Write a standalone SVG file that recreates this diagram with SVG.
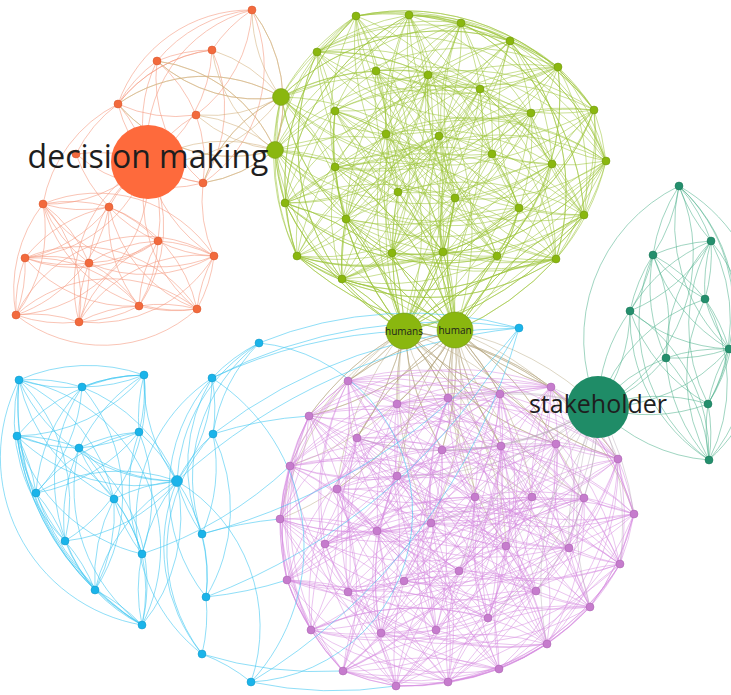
<svg xmlns="http://www.w3.org/2000/svg" width="731" height="695" viewBox="0 0 731 695">
<style>
path{fill:none;stroke-width:.9}
.eg{stroke:#9cc43a;stroke-opacity:.55;stroke-width:1}
.ep{stroke:#d58ae0;stroke-opacity:.5;stroke-width:1}
.eo{stroke:#f59a80;stroke-opacity:.65}
.et{stroke:#d4b382;stroke-opacity:.65}
.eb{stroke:#3fc6f2;stroke-opacity:.65}
.el{stroke:#4fb08c;stroke-opacity:.6}
.eh{stroke:#b3a57c;stroke-opacity:.5}
.es{stroke:#b9aab9;stroke-opacity:.5}
.ng{fill:#8ab70f;stroke:#6f9410;stroke-width:.5}
.np{fill:#c67ccd;stroke:#a862ae;stroke-width:.5}
.no{fill:#f26a3d;stroke:#d9552b;stroke-width:.5}
.nb{fill:#1ab4ea;stroke:#1597c4;stroke-width:.5}
.nt{fill:#248f6d;stroke:#1b7456;stroke-width:.5}
text{font-family:"Open Sans","Noto Sans","DejaVu Sans",sans-serif;fill:#1e1e1e}
</style>
<g id="connectors">
<!-- green -->
<path class="eg" d="M356 16A230 230 0 0 1 409 15A230 230 0 0 1 461 23A230 230 0 0 1 510 41A230 230 0 0 1 558 67A230 230 0 0 1 594 110A230 230 0 0 1 606 161A230 230 0 0 1 584 215A230 230 0 0 1 556 259A230 230 0 0 1 497 256A230 230 0 0 1 443 252A230 230 0 0 1 392 253A230 230 0 0 1 342 279A230 230 0 0 1 297 256A230 230 0 0 1 285 203A230 230 0 0 1 275 150A230 230 0 0 1 281 97A230 230 0 0 1 317 52A230 230 0 0 1 356 16"/>
<path class="eg" d="M356 16A230 230 0 0 1 461 23A230 230 0 0 1 558 67A230 230 0 0 1 606 161A230 230 0 0 1 556 259A230 230 0 0 1 443 252A230 230 0 0 1 342 279A230 230 0 0 1 285 203A230 230 0 0 1 281 97A230 230 0 0 1 356 16M409 15A230 230 0 0 1 510 41A230 230 0 0 1 594 110A230 230 0 0 1 584 215A230 230 0 0 1 497 256A230 230 0 0 1 392 253A230 230 0 0 1 297 256A230 230 0 0 1 275 150A230 230 0 0 1 317 52A230 230 0 0 1 409 15"/>
<path class="eg" d="M356 16A230 230 0 0 1 594 110A230 230 0 0 1 443 252A230 230 0 0 1 275 150A230 230 0 0 1 461 23A230 230 0 0 1 584 215A230 230 0 0 1 342 279A230 230 0 0 1 317 52A230 230 0 0 1 558 67A230 230 0 0 1 497 256A230 230 0 0 1 285 203A230 230 0 0 1 409 15A230 230 0 0 1 606 161A230 230 0 0 1 392 253A230 230 0 0 1 281 97A230 230 0 0 1 510 41A230 230 0 0 1 556 259A230 230 0 0 1 297 256A230 230 0 0 1 356 16"/>
<path class="eg" d="M356 16A230 230 0 0 1 594 110A230 230 0 0 1 443 252A230 230 0 0 1 317 52A230 230 0 0 1 428 75A230 230 0 0 1 492 154A230 230 0 0 1 519 208A230 230 0 0 1 510 41A230 230 0 0 1 556 259A230 230 0 0 1 297 256A230 230 0 0 1 335 111A230 230 0 0 1 386 134A230 230 0 0 1 398 192A230 230 0 0 1 409 15A230 230 0 0 1 606 161A230 230 0 0 1 392 253A230 230 0 0 1 281 97A230 230 0 0 1 480 89A230 230 0 0 1 552 164A230 230 0 0 1 346 219A230 230 0 0 1 558 67A230 230 0 0 1 497 256A230 230 0 0 1 285 203A230 230 0 0 1 376 71A230 230 0 0 1 439 136A230 230 0 0 1 455 198A230 230 0 0 1 461 23A230 230 0 0 1 584 215A230 230 0 0 1 342 279A230 230 0 0 1 275 150A230 230 0 0 1 531 113A230 230 0 0 1 335 167A230 230 0 0 1 356 16"/>
<path class="eg" d="M356 16A230 230 0 0 0 584 215A230 230 0 0 0 285 203A230 230 0 0 0 480 89A230 230 0 0 0 398 192A230 230 0 0 0 510 41A230 230 0 0 0 443 252A230 230 0 0 0 275 150A230 230 0 0 0 439 136A230 230 0 0 0 346 219A230 230 0 0 0 606 161A230 230 0 0 0 297 256A230 230 0 0 0 428 75A230 230 0 0 0 335 167A230 230 0 0 0 461 23A230 230 0 0 0 497 256A230 230 0 0 0 281 97A230 230 0 0 0 386 134A230 230 0 0 0 519 208A230 230 0 0 0 594 110A230 230 0 0 0 342 279A230 230 0 0 0 376 71A230 230 0 0 0 552 164A230 230 0 0 0 409 15A230 230 0 0 0 556 259A230 230 0 0 0 317 52A230 230 0 0 0 531 113A230 230 0 0 0 455 198A230 230 0 0 0 558 67A230 230 0 0 0 392 253A230 230 0 0 0 335 111A230 230 0 0 0 492 154A230 230 0 0 0 356 16"/>
<path class="eg" d="M356 16A230 230 0 0 1 392 253A230 230 0 0 1 531 113A230 230 0 0 1 409 15A230 230 0 0 1 342 279A230 230 0 0 1 386 134A230 230 0 0 1 461 23A230 230 0 0 1 297 256A230 230 0 0 1 439 136A230 230 0 0 1 510 41A230 230 0 0 1 285 203A230 230 0 0 1 492 154A230 230 0 0 1 558 67A230 230 0 0 1 317 52A230 230 0 0 1 552 164A230 230 0 0 1 594 110A230 230 0 0 1 281 97A230 230 0 0 1 335 167A230 230 0 0 1 606 161A230 230 0 0 1 275 150A230 230 0 0 1 398 192A230 230 0 0 1 584 215A230 230 0 0 1 335 111A230 230 0 0 1 455 198A230 230 0 0 1 556 259A230 230 0 0 1 376 71A230 230 0 0 1 519 208A230 230 0 0 1 497 256A230 230 0 0 1 428 75A230 230 0 0 1 346 219A230 230 0 0 1 443 252A230 230 0 0 1 480 89A230 230 0 0 1 356 16"/>
<path class="eg" d="M356 16A230 230 0 0 0 297 256A230 230 0 0 0 552 164A230 230 0 0 0 584 215A230 230 0 0 0 428 75A230 230 0 0 0 409 15A230 230 0 0 0 285 203A230 230 0 0 0 335 167A230 230 0 0 0 556 259A230 230 0 0 0 480 89A230 230 0 0 0 461 23A230 230 0 0 0 317 52A230 230 0 0 0 398 192A230 230 0 0 0 497 256A230 230 0 0 0 531 113A230 230 0 0 0 510 41A230 230 0 0 0 281 97A230 230 0 0 0 455 198A230 230 0 0 0 443 252A230 230 0 0 0 386 134A230 230 0 0 0 558 67A230 230 0 0 0 275 150A230 230 0 0 0 519 208A230 230 0 0 0 392 253A230 230 0 0 0 439 136A230 230 0 0 0 594 110A230 230 0 0 0 335 111A230 230 0 0 0 346 219A230 230 0 0 0 342 279A230 230 0 0 0 492 154A230 230 0 0 0 606 161A230 230 0 0 0 376 71A230 230 0 0 0 356 16"/>
<path class="eg" d="M356 16A230 230 0 0 1 510 41A230 230 0 0 1 606 161A230 230 0 0 1 497 256A230 230 0 0 1 342 279A230 230 0 0 1 317 52A230 230 0 0 1 335 111A230 230 0 0 1 480 89A230 230 0 0 1 439 136A230 230 0 0 1 335 167A230 230 0 0 1 519 208A230 230 0 0 1 409 15A230 230 0 0 1 558 67A230 230 0 0 1 584 215A230 230 0 0 1 443 252A230 230 0 0 1 297 256A230 230 0 0 1 281 97A230 230 0 0 1 376 71A230 230 0 0 1 531 113A230 230 0 0 1 492 154A230 230 0 0 1 398 192A230 230 0 0 1 346 219A230 230 0 0 1 461 23A230 230 0 0 1 594 110A230 230 0 0 1 556 259A230 230 0 0 1 392 253A230 230 0 0 1 285 203A230 230 0 0 1 275 150A230 230 0 0 1 428 75A230 230 0 0 1 386 134A230 230 0 0 1 552 164A230 230 0 0 1 455 198A230 230 0 0 1 356 16"/>
<path class="eg" d="M356 16A230 230 0 0 0 497 256A230 230 0 0 0 335 111A230 230 0 0 0 335 167A230 230 0 0 0 558 67A230 230 0 0 0 297 256A230 230 0 0 0 531 113A230 230 0 0 0 346 219A230 230 0 0 0 556 259A230 230 0 0 0 275 150A230 230 0 0 0 552 164A230 230 0 0 0 510 41A230 230 0 0 0 342 279A230 230 0 0 0 480 89A230 230 0 0 0 519 208A230 230 0 0 0 584 215A230 230 0 0 0 281 97A230 230 0 0 0 492 154A230 230 0 0 0 461 23A230 230 0 0 0 392 253A230 230 0 0 0 428 75A230 230 0 0 0 455 198A230 230 0 0 0 606 161A230 230 0 0 0 317 52A230 230 0 0 0 439 136A230 230 0 0 0 409 15A230 230 0 0 0 443 252A230 230 0 0 0 376 71A230 230 0 0 0 398 192A230 230 0 0 0 594 110A230 230 0 0 0 285 203A230 230 0 0 0 386 134A230 230 0 0 0 356 16"/>
<path class="eg" d="M356 16A230 230 0 0 1 317 52A230 230 0 0 1 519 208A230 230 0 0 1 297 256A230 230 0 0 1 398 192A230 230 0 0 1 392 253A230 230 0 0 1 552 164A230 230 0 0 1 497 256A230 230 0 0 1 439 136A230 230 0 0 1 584 215A230 230 0 0 1 531 113A230 230 0 0 1 594 110A230 230 0 0 1 428 75A230 230 0 0 1 510 41A230 230 0 0 1 335 111A230 230 0 0 1 409 15A230 230 0 0 1 281 97A230 230 0 0 1 346 219A230 230 0 0 1 285 203A230 230 0 0 1 455 198A230 230 0 0 1 342 279A230 230 0 0 1 335 167A230 230 0 0 1 443 252A230 230 0 0 1 492 154A230 230 0 0 1 556 259A230 230 0 0 1 386 134A230 230 0 0 1 606 161A230 230 0 0 1 480 89A230 230 0 0 1 558 67A230 230 0 0 1 376 71A230 230 0 0 1 461 23A230 230 0 0 1 275 150A230 230 0 0 1 356 16"/>
<path class="eg" d="M404 331A300 300 0 0 1 342 279A300 300 0 0 1 455 331A300 300 0 0 1 392 253A300 300 0 0 1 404 331A300 300 0 0 1 443 252A300 300 0 0 1 455 331A300 300 0 0 1 497 256A300 300 0 0 1 404 331A300 300 0 0 1 556 259A300 300 0 0 1 455 331A300 300 0 0 1 297 256A300 300 0 0 1 404 331A300 300 0 0 1 285 203A300 300 0 0 1 455 331A300 300 0 0 1 346 219A300 300 0 0 1 404 331A300 300 0 0 1 398 192A300 300 0 0 1 455 331A300 300 0 0 1 455 198A300 300 0 0 1 404 331A300 300 0 0 1 519 208A300 300 0 0 1 455 331A300 300 0 0 1 584 215A300 300 0 0 1 404 331A300 300 0 0 1 335 167A300 300 0 0 1 455 331A300 300 0 0 1 275 150A300 300 0 0 1 404 331A300 300 0 0 1 552 164A300 300 0 0 1 455 331A300 300 0 0 1 606 161A300 300 0 0 1 404 331A300 300 0 0 1 386 134A300 300 0 0 1 455 331A300 300 0 0 1 439 136A300 300 0 0 1 404 331A300 300 0 0 1 492 154"/>
<path class="eg" d="M455 331A300 300 0 0 0 342 279A300 300 0 0 0 404 331A300 300 0 0 0 392 253A300 300 0 0 0 455 331A300 300 0 0 0 443 252A300 300 0 0 0 404 331A300 300 0 0 0 497 256A300 300 0 0 0 455 331A300 300 0 0 0 556 259A300 300 0 0 0 404 331A300 300 0 0 0 297 256A300 300 0 0 0 455 331A300 300 0 0 0 285 203A300 300 0 0 0 404 331A300 300 0 0 0 346 219A300 300 0 0 0 455 331A300 300 0 0 0 398 192A300 300 0 0 0 404 331A300 300 0 0 0 455 198A300 300 0 0 0 455 331A300 300 0 0 0 519 208A300 300 0 0 0 404 331A300 300 0 0 0 584 215A300 300 0 0 0 455 331A300 300 0 0 0 335 167A300 300 0 0 0 404 331A300 300 0 0 0 531 113A300 300 0 0 0 455 331A300 300 0 0 0 335 111A300 300 0 0 0 404 331A300 300 0 0 0 480 89A300 300 0 0 0 455 331A300 300 0 0 0 428 75A300 300 0 0 0 404 331A300 300 0 0 0 376 71"/>
<!-- humans to pink -->
<path class="eh" d="M404 331A300 300 0 0 1 348 381A300 300 0 0 1 455 331A300 300 0 0 1 397 404A300 300 0 0 1 404 331A300 300 0 0 1 448 398A300 300 0 0 1 455 331A300 300 0 0 1 500 394A300 300 0 0 1 404 331A300 300 0 0 1 551 387A300 300 0 0 1 455 331A300 300 0 0 1 309 416A300 300 0 0 1 404 331A300 300 0 0 1 357 438A300 300 0 0 1 455 331A300 300 0 0 1 442 450A300 300 0 0 1 404 331A300 300 0 0 1 501 446A300 300 0 0 1 455 331A300 300 0 0 1 556 444A300 300 0 0 1 404 331A300 300 0 0 1 618 459A300 300 0 0 1 455 331A300 300 0 0 1 290 466A300 300 0 0 1 404 331A300 300 0 0 1 397 476A300 300 0 0 1 455 331A300 300 0 0 1 337 489A300 300 0 0 1 404 331A300 300 0 0 1 475 497A300 300 0 0 1 455 331A300 300 0 0 1 532 497A300 300 0 0 1 404 331A300 300 0 0 1 584 498A300 300 0 0 1 455 331A300 300 0 0 1 634 514"/>
<path class="eh" d="M455 331A300 300 0 0 0 348 381A300 300 0 0 0 404 331A300 300 0 0 0 397 404A300 300 0 0 0 455 331A300 300 0 0 0 448 398A300 300 0 0 0 404 331A300 300 0 0 0 500 394A300 300 0 0 0 455 331A300 300 0 0 0 551 387A300 300 0 0 0 404 331A300 300 0 0 0 309 416A300 300 0 0 0 455 331A300 300 0 0 0 357 438A300 300 0 0 0 404 331A300 300 0 0 0 442 450A300 300 0 0 0 455 331A300 300 0 0 0 501 446A300 300 0 0 0 404 331A300 300 0 0 0 556 444A300 300 0 0 0 455 331A300 300 0 0 0 618 459A300 300 0 0 0 404 331A300 300 0 0 0 431 523A300 300 0 0 0 455 331A300 300 0 0 0 506 546A300 300 0 0 0 404 331A300 300 0 0 0 280 519A300 300 0 0 0 455 331A300 300 0 0 0 569 548M455 331A300 300 0 0 1 598 407"/>
<!-- pink -->
<path class="ep" d="M348 381A260 260 0 0 1 397 404A260 260 0 0 1 448 398A260 260 0 0 1 500 394A260 260 0 0 1 551 387A260 260 0 0 1 618 459A260 260 0 0 1 634 514A260 260 0 0 1 620 564A260 260 0 0 1 590 607A260 260 0 0 1 547 644A260 260 0 0 1 499 669A260 260 0 0 1 448 682A260 260 0 0 1 396 686A260 260 0 0 1 343 671A260 260 0 0 1 311 630A260 260 0 0 1 287 580A260 260 0 0 1 280 519A260 260 0 0 1 290 466A260 260 0 0 1 309 416A260 260 0 0 1 348 381"/>
<path class="ep" d="M348 381A260 260 0 0 1 448 398A260 260 0 0 1 551 387A260 260 0 0 1 634 514A260 260 0 0 1 590 607A260 260 0 0 1 499 669A260 260 0 0 1 396 686A260 260 0 0 1 311 630A260 260 0 0 1 280 519A260 260 0 0 1 309 416A260 260 0 0 1 348 381M397 404A260 260 0 0 1 500 394A260 260 0 0 1 618 459A260 260 0 0 1 620 564A260 260 0 0 1 547 644A260 260 0 0 1 448 682A260 260 0 0 1 343 671A260 260 0 0 1 287 580A260 260 0 0 1 290 466A260 260 0 0 1 397 404M348 381A260 260 0 0 1 618 459A260 260 0 0 1 547 644A260 260 0 0 1 343 671A260 260 0 0 1 280 519A260 260 0 0 1 348 381M500 394A260 260 0 0 1 620 564A260 260 0 0 1 448 682A260 260 0 0 1 287 580A260 260 0 0 1 309 416A260 260 0 0 1 500 394"/>
<path class="ep" d="M348 381A260 260 0 0 1 500 394A260 260 0 0 1 357 438A260 260 0 0 1 556 444A260 260 0 0 1 397 476A260 260 0 0 1 532 497A260 260 0 0 1 280 519A260 260 0 0 1 325 544A260 260 0 0 1 620 564A260 260 0 0 1 459 571A260 260 0 0 1 590 607A260 260 0 0 1 381 633A260 260 0 0 1 343 671A260 260 0 0 1 499 669A260 260 0 0 1 448 398A260 260 0 0 1 309 416A260 260 0 0 1 501 446A260 260 0 0 1 290 466A260 260 0 0 1 475 497A260 260 0 0 1 634 514A260 260 0 0 1 377 531A260 260 0 0 1 569 548A260 260 0 0 1 404 581A260 260 0 0 1 536 591A260 260 0 0 1 311 630A260 260 0 0 1 547 644A260 260 0 0 1 448 682A260 260 0 0 1 397 404A260 260 0 0 1 551 387A260 260 0 0 1 442 450A260 260 0 0 1 618 459A260 260 0 0 1 337 489A260 260 0 0 1 584 498A260 260 0 0 1 431 523A260 260 0 0 1 506 546A260 260 0 0 1 287 580A260 260 0 0 1 348 592A260 260 0 0 1 488 618A260 260 0 0 1 436 630A260 260 0 0 1 396 686A260 260 0 0 1 348 381"/>
<path class="ep" d="M348 381A260 260 0 0 0 442 450A260 260 0 0 0 475 497A260 260 0 0 0 325 544A260 260 0 0 0 348 592A260 260 0 0 0 547 644A260 260 0 0 0 448 398A260 260 0 0 0 556 444A260 260 0 0 0 584 498A260 260 0 0 0 569 548A260 260 0 0 0 590 607A260 260 0 0 0 396 686A260 260 0 0 0 551 387A260 260 0 0 0 290 466A260 260 0 0 0 280 519A260 260 0 0 0 287 580A260 260 0 0 0 311 630A260 260 0 0 0 499 669A260 260 0 0 0 357 438A260 260 0 0 0 337 489A260 260 0 0 0 377 531A260 260 0 0 0 459 571A260 260 0 0 0 436 630A260 260 0 0 0 397 404A260 260 0 0 0 501 446A260 260 0 0 0 532 497A260 260 0 0 0 506 546A260 260 0 0 0 536 591A260 260 0 0 0 343 671A260 260 0 0 0 500 394A260 260 0 0 0 618 459A260 260 0 0 0 634 514A260 260 0 0 0 620 564A260 260 0 0 0 488 618A260 260 0 0 0 448 682A260 260 0 0 0 309 416A260 260 0 0 0 397 476A260 260 0 0 0 431 523A260 260 0 0 0 404 581A260 260 0 0 0 381 633A260 260 0 0 0 348 381"/>
<path class="ep" d="M348 381A260 260 0 0 1 556 444A260 260 0 0 1 280 519A260 260 0 0 1 459 571A260 260 0 0 1 343 671A260 260 0 0 1 309 416A260 260 0 0 1 475 497A260 260 0 0 1 569 548A260 260 0 0 1 311 630A260 260 0 0 1 397 404A260 260 0 0 1 618 459A260 260 0 0 1 431 523A260 260 0 0 1 348 592A260 260 0 0 1 396 686A260 260 0 0 1 357 438A260 260 0 0 1 532 497A260 260 0 0 1 620 564A260 260 0 0 1 381 633A260 260 0 0 1 448 398A260 260 0 0 1 290 466A260 260 0 0 1 377 531A260 260 0 0 1 536 591A260 260 0 0 1 448 682A260 260 0 0 1 442 450A260 260 0 0 1 584 498A260 260 0 0 1 287 580A260 260 0 0 1 436 630A260 260 0 0 1 500 394A260 260 0 0 1 397 476A260 260 0 0 1 325 544A260 260 0 0 1 590 607A260 260 0 0 1 499 669A260 260 0 0 1 501 446A260 260 0 0 1 634 514A260 260 0 0 1 404 581A260 260 0 0 1 547 644A260 260 0 0 1 551 387A260 260 0 0 1 337 489A260 260 0 0 1 506 546A260 260 0 0 1 488 618A260 260 0 0 1 348 381"/>
<path class="ep" d="M348 381A260 260 0 0 0 290 466A260 260 0 0 0 506 546A260 260 0 0 0 381 633A260 260 0 0 0 551 387A260 260 0 0 0 532 497A260 260 0 0 0 404 581A260 260 0 0 0 396 686A260 260 0 0 0 501 446A260 260 0 0 0 431 523A260 260 0 0 0 590 607A260 260 0 0 0 397 404A260 260 0 0 0 397 476A260 260 0 0 0 569 548A260 260 0 0 0 436 630A260 260 0 0 0 309 416A260 260 0 0 0 584 498A260 260 0 0 0 459 571A260 260 0 0 0 448 682A260 260 0 0 0 556 444A260 260 0 0 0 377 531A260 260 0 0 0 488 618A260 260 0 0 0 448 398A260 260 0 0 0 337 489A260 260 0 0 0 620 564A260 260 0 0 0 547 644A260 260 0 0 0 357 438A260 260 0 0 0 634 514A260 260 0 0 0 348 592A260 260 0 0 0 499 669A260 260 0 0 0 618 459A260 260 0 0 0 325 544A260 260 0 0 0 311 630A260 260 0 0 0 500 394A260 260 0 0 0 475 497A260 260 0 0 0 287 580A260 260 0 0 0 343 671A260 260 0 0 0 442 450A260 260 0 0 0 280 519A260 260 0 0 0 536 591A260 260 0 0 0 348 381"/>
<path class="ep" d="M348 381A260 260 0 0 1 337 489A260 260 0 0 1 404 581A260 260 0 0 1 499 669A260 260 0 0 1 397 476A260 260 0 0 1 287 580A260 260 0 0 1 448 682A260 260 0 0 1 290 466A260 260 0 0 1 620 564A260 260 0 0 1 396 686A260 260 0 0 1 618 459A260 260 0 0 1 569 548A260 260 0 0 1 343 671A260 260 0 0 1 556 444A260 260 0 0 1 506 546A260 260 0 0 1 547 644A260 260 0 0 1 501 446A260 260 0 0 1 325 544A260 260 0 0 1 436 630A260 260 0 0 1 442 450A260 260 0 0 1 377 531A260 260 0 0 1 381 633A260 260 0 0 1 357 438A260 260 0 0 1 431 523A260 260 0 0 1 311 630A260 260 0 0 1 309 416A260 260 0 0 1 280 519A260 260 0 0 1 488 618A260 260 0 0 1 551 387A260 260 0 0 1 634 514A260 260 0 0 1 590 607A260 260 0 0 1 500 394A260 260 0 0 1 584 498A260 260 0 0 1 536 591A260 260 0 0 1 448 398A260 260 0 0 1 532 497A260 260 0 0 1 348 592A260 260 0 0 1 397 404A260 260 0 0 1 475 497A260 260 0 0 1 459 571A260 260 0 0 1 348 381"/>
<path class="ep" d="M348 381A260 260 0 0 0 634 514A260 260 0 0 0 436 630A260 260 0 0 0 290 466A260 260 0 0 0 348 592A260 260 0 0 0 309 416A260 260 0 0 0 506 546A260 260 0 0 0 499 669A260 260 0 0 0 584 498A260 260 0 0 0 381 633A260 260 0 0 0 618 459A260 260 0 0 0 459 571A260 260 0 0 0 551 387A260 260 0 0 0 325 544A260 260 0 0 0 448 682A260 260 0 0 0 532 497A260 260 0 0 0 311 630A260 260 0 0 0 556 444A260 260 0 0 0 404 581A260 260 0 0 0 500 394A260 260 0 0 0 377 531A260 260 0 0 0 396 686A260 260 0 0 0 475 497A260 260 0 0 0 488 618A260 260 0 0 0 501 446A260 260 0 0 0 287 580A260 260 0 0 0 448 398A260 260 0 0 0 431 523A260 260 0 0 0 343 671A260 260 0 0 0 337 489A260 260 0 0 0 590 607A260 260 0 0 0 442 450A260 260 0 0 0 620 564A260 260 0 0 0 397 404A260 260 0 0 0 280 519A260 260 0 0 0 547 644A260 260 0 0 0 397 476A260 260 0 0 0 536 591A260 260 0 0 0 357 438A260 260 0 0 0 569 548A260 260 0 0 0 348 381"/>
<path class="ep" d="M348 381A260 260 0 0 1 431 523A260 260 0 0 1 448 682A260 260 0 0 1 634 514A260 260 0 0 1 343 671A260 260 0 0 1 532 497A260 260 0 0 1 436 630A260 260 0 0 1 337 489A260 260 0 0 1 311 630A260 260 0 0 1 290 466A260 260 0 0 1 590 607A260 260 0 0 1 556 444A260 260 0 0 1 348 592A260 260 0 0 1 442 450A260 260 0 0 1 404 581A260 260 0 0 1 309 416A260 260 0 0 1 620 564A260 260 0 0 1 500 394A260 260 0 0 1 506 546A260 260 0 0 1 397 404A260 260 0 0 1 377 531A260 260 0 0 1 499 669A260 260 0 0 1 280 519A260 260 0 0 1 396 686A260 260 0 0 1 584 498A260 260 0 0 1 547 644A260 260 0 0 1 475 497A260 260 0 0 1 381 633A260 260 0 0 1 397 476A260 260 0 0 1 488 618A260 260 0 0 1 618 459A260 260 0 0 1 536 591A260 260 0 0 1 501 446A260 260 0 0 1 459 571A260 260 0 0 1 357 438A260 260 0 0 1 287 580A260 260 0 0 1 551 387A260 260 0 0 1 569 548A260 260 0 0 1 448 398A260 260 0 0 1 325 544A260 260 0 0 1 348 381"/>
<path class="ep" d="M348 381A260 260 0 0 0 397 404A260 260 0 0 0 448 398A260 260 0 0 0 500 394A260 260 0 0 0 551 387A260 260 0 0 0 309 416A260 260 0 0 0 357 438A260 260 0 0 0 442 450A260 260 0 0 0 501 446A260 260 0 0 0 556 444A260 260 0 0 0 618 459A260 260 0 0 0 290 466A260 260 0 0 0 397 476A260 260 0 0 0 337 489A260 260 0 0 0 475 497A260 260 0 0 0 532 497A260 260 0 0 0 584 498A260 260 0 0 0 634 514A260 260 0 0 0 280 519A260 260 0 0 0 431 523A260 260 0 0 0 377 531A260 260 0 0 0 325 544A260 260 0 0 0 506 546A260 260 0 0 0 569 548A260 260 0 0 0 620 564A260 260 0 0 0 287 580A260 260 0 0 0 404 581A260 260 0 0 0 459 571A260 260 0 0 0 348 592A260 260 0 0 0 536 591A260 260 0 0 0 590 607A260 260 0 0 0 488 618A260 260 0 0 0 311 630A260 260 0 0 0 381 633A260 260 0 0 0 436 630A260 260 0 0 0 547 644A260 260 0 0 0 343 671A260 260 0 0 0 396 686A260 260 0 0 0 448 682A260 260 0 0 0 499 669"/>
<!-- stakeholder to pink -->
<path class="es" d="M598 407A300 300 0 0 1 551 387M598 407A300 300 0 0 1 501 446M598 407A300 300 0 0 1 584 498M598 407A300 300 0 0 1 634 514M598 407A300 300 0 0 1 620 564M598 407A300 300 0 0 1 506 546M598 407A300 300 0 0 1 536 591M598 407A300 300 0 0 1 488 618M598 407A300 300 0 0 1 431 523M598 407A300 300 0 0 1 397 476M598 407A300 300 0 0 1 357 438M598 407A300 300 0 0 1 442 450M598 407A300 300 0 0 0 556 444M598 407A300 300 0 0 0 618 459M598 407A300 300 0 0 0 532 497M598 407A300 300 0 0 0 569 548M598 407A300 300 0 0 0 590 607M598 407A300 300 0 0 0 475 497M598 407A300 300 0 0 0 547 644M598 407A300 300 0 0 0 459 571M598 407A300 300 0 0 0 448 398M598 407A300 300 0 0 0 500 394"/>
<!-- teal -->
<path class="el" d="M679 186A170 170 0 0 1 711 241A170 170 0 0 1 705 299A170 170 0 0 1 729 349A170 170 0 0 1 708 404A170 170 0 0 1 709 460A170 170 0 0 1 666 358A170 170 0 0 1 598 407A170 170 0 0 1 630 311A170 170 0 0 1 653 255A170 170 0 0 1 679 186"/>
<path class="el" d="M679 186A170 170 0 0 1 729 349A170 170 0 0 1 666 358A170 170 0 0 1 653 255A170 170 0 0 1 705 299A170 170 0 0 1 709 460A170 170 0 0 1 630 311A170 170 0 0 1 711 241A170 170 0 0 1 708 404A170 170 0 0 1 598 407A170 170 0 0 1 679 186"/>
<path class="el" d="M679 186A170 170 0 0 1 598 407A170 170 0 0 1 708 404A170 170 0 0 1 711 241A170 170 0 0 1 630 311A170 170 0 0 1 709 460A170 170 0 0 1 705 299A170 170 0 0 1 653 255A170 170 0 0 1 666 358A170 170 0 0 1 729 349A170 170 0 0 1 679 186"/>
<path class="el" d="M679 186A170 170 0 0 1 653 255A170 170 0 0 1 630 311A170 170 0 0 1 598 407A170 170 0 0 1 666 358A170 170 0 0 1 709 460A170 170 0 0 1 708 404A170 170 0 0 1 729 349A170 170 0 0 1 705 299A170 170 0 0 1 711 241A170 170 0 0 1 679 186"/>
<path class="el" d="M679 186A170 170 0 0 1 709 460A170 170 0 0 1 598 407M679 186A170 170 0 0 1 708 404M711 241A170 170 0 0 1 709 460M653 255A170 170 0 0 0 709 460M630 311A170 170 0 0 0 708 404M653 255A170 170 0 0 0 729 349M630 311A170 170 0 0 0 729 349M653 255A170 170 0 0 1 711 241M711 241A170 170 0 0 0 666 358M705 299A170 170 0 0 0 598 407M729 349A170 170 0 0 1 598 407"/>
<!-- orange -->
<path class="eo" d="M118 104A140 140 0 0 1 157 61A140 140 0 0 1 212 50A140 140 0 0 1 252 10A140 140 0 0 1 196 115A140 140 0 0 1 203 183A140 140 0 0 1 148 162A140 140 0 0 1 118 104M118 104A140 140 0 0 1 252 10A140 140 0 0 1 203 183A140 140 0 0 1 157 61A140 140 0 0 1 196 115A140 140 0 0 1 118 104A140 140 0 0 1 212 50A140 140 0 0 1 203 183M157 61A140 140 0 0 1 252 10M212 50A140 140 0 0 0 118 104"/>
<path class="eo" d="M148 162A140 140 0 0 1 252 10M148 162A140 140 0 0 1 157 61M148 162A140 140 0 0 1 196 115M148 162A140 140 0 0 1 43 204M148 162A140 140 0 0 1 158 241M148 162A140 140 0 0 1 25 258M148 162A140 140 0 0 1 16 315M148 162A140 140 0 0 1 139 306M148 162A140 140 0 0 0 212 50M148 162A140 140 0 0 0 118 104M148 162A140 140 0 0 0 203 183M148 162A140 140 0 0 0 76 154M148 162A140 140 0 0 0 109 207M148 162A140 140 0 0 0 214 256M148 162A140 140 0 0 0 89 263M148 162A140 140 0 0 0 79 322M148 162A140 140 0 0 0 197 309"/>
<path class="eo" d="M43 204A140 140 0 0 1 109 207A140 140 0 0 1 158 241A140 140 0 0 1 214 256A140 140 0 0 1 197 309A140 140 0 0 1 139 306A140 140 0 0 1 79 322A140 140 0 0 1 16 315A140 140 0 0 1 25 258A140 140 0 0 1 89 263A140 140 0 0 1 43 204"/>
<path class="eo" d="M43 204A140 140 0 0 1 214 256A140 140 0 0 1 79 322A140 140 0 0 1 89 263A140 140 0 0 1 158 241A140 140 0 0 1 139 306A140 140 0 0 1 25 258A140 140 0 0 1 109 207A140 140 0 0 1 197 309A140 140 0 0 1 16 315A140 140 0 0 1 43 204"/>
<path class="eo" d="M43 204A140 140 0 0 1 16 315A140 140 0 0 1 197 309A140 140 0 0 1 109 207A140 140 0 0 1 25 258A140 140 0 0 1 139 306A140 140 0 0 1 158 241A140 140 0 0 1 89 263A140 140 0 0 1 79 322A140 140 0 0 1 214 256A140 140 0 0 1 43 204"/>
<path class="eo" d="M43 204A140 140 0 0 1 89 263A140 140 0 0 1 25 258A140 140 0 0 1 16 315A140 140 0 0 1 79 322A140 140 0 0 1 139 306A140 140 0 0 1 197 309A140 140 0 0 1 214 256A140 140 0 0 1 158 241A140 140 0 0 1 109 207A140 140 0 0 1 43 204"/>
<path class="eo" d="M43 204A140 140 0 0 0 197 309A140 140 0 0 0 25 258A140 140 0 0 0 158 241A140 140 0 0 0 79 322A140 140 0 0 0 43 204M109 207A140 140 0 0 0 139 306A140 140 0 0 0 89 263A140 140 0 0 0 214 256A140 140 0 0 0 16 315A140 140 0 0 0 109 207M43 204A140 140 0 0 1 118 104M76 154A140 140 0 0 1 118 104M76 154A140 140 0 0 0 109 207M76 154A140 140 0 0 0 203 183M203 183A140 140 0 0 0 214 256"/>
<path class="et" d="M281 97A150 150 0 0 1 252 10A150 150 0 0 1 275 150A150 150 0 0 1 212 50A150 150 0 0 1 281 97A150 150 0 0 1 157 61A150 150 0 0 1 275 150A150 150 0 0 1 118 104A150 150 0 0 1 281 97A150 150 0 0 1 196 115A150 150 0 0 1 275 150A150 150 0 0 1 203 183A150 150 0 0 1 281 97A150 150 0 0 1 148 162A150 150 0 0 1 275 150A150 150 0 0 1 196 115"/>
<path class="et" d="M281 97A150 150 0 0 0 118 104A150 150 0 0 0 275 150A150 150 0 0 0 157 61A150 150 0 0 0 281 97A150 150 0 0 0 203 183A150 150 0 0 0 275 150A150 150 0 0 0 252 10"/>
<!-- blue -->
<path class="eb" d="M19 380A170 170 0 0 1 82 387A170 170 0 0 1 144 375A170 170 0 0 1 139 432A170 170 0 0 1 142 554A170 170 0 0 1 142 625A170 170 0 0 1 95 590A170 170 0 0 1 65 541A170 170 0 0 1 36 493A170 170 0 0 1 17 436A170 170 0 0 1 79 448A170 170 0 0 1 114 499A170 170 0 0 1 19 380"/>
<path class="eb" d="M19 380A170 170 0 0 1 142 625A170 170 0 0 1 79 448A170 170 0 0 1 139 432A170 170 0 0 1 36 493A170 170 0 0 1 82 387A170 170 0 0 1 95 590A170 170 0 0 1 114 499A170 170 0 0 1 142 554A170 170 0 0 1 17 436A170 170 0 0 1 144 375A170 170 0 0 1 65 541A170 170 0 0 1 19 380"/>
<path class="eb" d="M19 380A170 170 0 0 1 65 541A170 170 0 0 1 144 375A170 170 0 0 1 17 436A170 170 0 0 1 142 554A170 170 0 0 1 114 499A170 170 0 0 1 95 590A170 170 0 0 1 82 387A170 170 0 0 1 36 493A170 170 0 0 1 139 432A170 170 0 0 1 79 448A170 170 0 0 1 142 625A170 170 0 0 1 19 380"/>
<path class="eb" d="M19 380A170 170 0 0 1 114 499A170 170 0 0 1 79 448A170 170 0 0 1 17 436A170 170 0 0 1 36 493A170 170 0 0 1 65 541A170 170 0 0 1 95 590A170 170 0 0 1 142 625A170 170 0 0 1 142 554A170 170 0 0 1 139 432A170 170 0 0 1 144 375A170 170 0 0 1 82 387A170 170 0 0 1 19 380"/>
<path class="eb" d="M19 380A260 260 0 0 0 142 625M17 436A260 260 0 0 0 142 625M19 380A260 260 0 0 0 95 590M17 436A260 260 0 0 0 95 590M36 493A260 260 0 0 0 142 625M82 387A170 170 0 0 1 144 375M19 380A170 170 0 0 1 144 375"/>
<path class="eb" d="M177 481A170 170 0 0 1 19 380M177 481A170 170 0 0 1 144 375M177 481A170 170 0 0 1 17 436M177 481A170 170 0 0 1 79 448M177 481A170 170 0 0 1 65 541M177 481A170 170 0 0 1 142 625M177 481A170 170 0 0 1 259 343M177 481A170 170 0 0 1 213 434M177 481A170 170 0 0 1 206 597M177 481A170 170 0 0 1 251 682M177 481A170 170 0 0 0 82 387M177 481A170 170 0 0 0 139 432M177 481A170 170 0 0 0 36 493M177 481A170 170 0 0 0 114 499M177 481A170 170 0 0 0 142 554M177 481A170 170 0 0 0 95 590M177 481A170 170 0 0 0 212 378M177 481A170 170 0 0 0 202 534M177 481A170 170 0 0 0 202 654"/>
<path class="eb" d="M259 343A170 170 0 0 1 251 682M212 378A200 200 0 0 1 251 682M259 343A170 170 0 0 0 202 534M212 378A170 170 0 0 0 202 654M212 378A170 170 0 0 0 206 597M213 434A170 170 0 0 0 202 654M259 343A170 170 0 0 0 213 434M212 378A170 170 0 0 0 202 534M259 343A170 170 0 0 0 212 378M213 434A170 170 0 0 1 202 534M202 534A170 170 0 0 1 206 597M206 597A170 170 0 0 1 202 654M202 654A170 170 0 0 1 251 682M212 378A170 170 0 0 1 213 434M213 434A170 170 0 0 1 206 597"/>
<path class="eb" d="M259 343A400 400 0 0 1 519 328M212 378A500 500 0 0 1 404 331M212 378A500 500 0 0 1 519 328M213 434A500 500 0 0 1 519 328M519 328A600 600 0 0 1 202 534M519 328A600 600 0 0 1 206 597M519 328A600 600 0 0 0 177 481M519 328A600 600 0 0 1 251 682M213 434A400 400 0 0 1 309 416M202 534A400 400 0 0 1 280 519M206 597A400 400 0 0 0 287 580M202 654A400 400 0 0 0 343 671M251 682A400 400 0 0 0 396 686M142 554A400 400 0 0 0 290 466"/>
</g>
<!-- green nodes -->
<g id="n-g0"><circle class="ng" cx="356" cy="16" r="4"/></g>
<g id="n-g1"><circle class="ng" cx="409" cy="15" r="4"/></g>
<g id="n-g2"><circle class="ng" cx="461" cy="23" r="4"/></g>
<g id="n-g3"><circle class="ng" cx="510" cy="41" r="4"/></g>
<g id="n-g4"><circle class="ng" cx="558" cy="67" r="4"/></g>
<g id="n-g5"><circle class="ng" cx="594" cy="110" r="4"/></g>
<g id="n-g6"><circle class="ng" cx="606" cy="161" r="4"/></g>
<g id="n-g7"><circle class="ng" cx="584" cy="215" r="4"/></g>
<g id="n-g8"><circle class="ng" cx="556" cy="259" r="4"/></g>
<g id="n-g9"><circle class="ng" cx="497" cy="256" r="4"/></g>
<g id="n-g10"><circle class="ng" cx="443" cy="252" r="4"/></g>
<g id="n-g11"><circle class="ng" cx="392" cy="253" r="4"/></g>
<g id="n-g12"><circle class="ng" cx="342" cy="279" r="4"/></g>
<g id="n-g13"><circle class="ng" cx="297" cy="256" r="4"/></g>
<g id="n-g14"><circle class="ng" cx="285" cy="203" r="4"/></g>
<g id="n-g15"><circle class="ng" cx="317" cy="52" r="4"/></g>
<g id="n-g16"><circle class="ng" cx="281" cy="97" r="8.5"/></g>
<g id="n-g17"><circle class="ng" cx="275" cy="150" r="8.5"/></g>
<g id="n-g18"><circle class="ng" cx="335" cy="111" r="4"/></g>
<g id="n-g19"><circle class="ng" cx="376" cy="71" r="4"/></g>
<g id="n-g20"><circle class="ng" cx="428" cy="75" r="4"/></g>
<g id="n-g21"><circle class="ng" cx="480" cy="89" r="4"/></g>
<g id="n-g22"><circle class="ng" cx="531" cy="113" r="4"/></g>
<g id="n-g23"><circle class="ng" cx="386" cy="134" r="4"/></g>
<g id="n-g24"><circle class="ng" cx="439" cy="136" r="4"/></g>
<g id="n-g25"><circle class="ng" cx="492" cy="154" r="4"/></g>
<g id="n-g26"><circle class="ng" cx="552" cy="164" r="4"/></g>
<g id="n-g27"><circle class="ng" cx="335" cy="167" r="4"/></g>
<g id="n-g28"><circle class="ng" cx="398" cy="192" r="4"/></g>
<g id="n-g29"><circle class="ng" cx="455" cy="198" r="4"/></g>
<g id="n-g30"><circle class="ng" cx="519" cy="208" r="4"/></g>
<g id="n-g31"><circle class="ng" cx="346" cy="219" r="4"/></g>
<g id="n-humans"><circle class="ng" cx="404" cy="331" r="18"/><text x="404" y="335" font-size="10" text-anchor="middle">humans</text></g>
<g id="n-human"><circle class="ng" cx="455" cy="330" r="18"/><text x="455" y="334" font-size="10" text-anchor="middle">human</text></g>
<!-- pink nodes -->
<g id="n-p0"><circle class="np" cx="348" cy="381" r="4"/></g>
<g id="n-p1"><circle class="np" cx="397" cy="404" r="4"/></g>
<g id="n-p2"><circle class="np" cx="448" cy="398" r="4"/></g>
<g id="n-p3"><circle class="np" cx="500" cy="394" r="4"/></g>
<g id="n-p4"><circle class="np" cx="551" cy="387" r="4"/></g>
<g id="n-p5"><circle class="np" cx="309" cy="416" r="4"/></g>
<g id="n-p6"><circle class="np" cx="357" cy="438" r="4"/></g>
<g id="n-p7"><circle class="np" cx="442" cy="450" r="4"/></g>
<g id="n-p8"><circle class="np" cx="501" cy="446" r="4"/></g>
<g id="n-p9"><circle class="np" cx="556" cy="444" r="4"/></g>
<g id="n-p10"><circle class="np" cx="618" cy="459" r="4"/></g>
<g id="n-p11"><circle class="np" cx="290" cy="466" r="4"/></g>
<g id="n-p12"><circle class="np" cx="397" cy="476" r="4"/></g>
<g id="n-p13"><circle class="np" cx="337" cy="489" r="4"/></g>
<g id="n-p14"><circle class="np" cx="475" cy="497" r="4"/></g>
<g id="n-p15"><circle class="np" cx="532" cy="497" r="4"/></g>
<g id="n-p16"><circle class="np" cx="584" cy="498" r="4"/></g>
<g id="n-p17"><circle class="np" cx="634" cy="514" r="4"/></g>
<g id="n-p18"><circle class="np" cx="280" cy="519" r="4"/></g>
<g id="n-p19"><circle class="np" cx="431" cy="523" r="4"/></g>
<g id="n-p20"><circle class="np" cx="377" cy="531" r="4"/></g>
<g id="n-p21"><circle class="np" cx="325" cy="544" r="4"/></g>
<g id="n-p22"><circle class="np" cx="506" cy="546" r="4"/></g>
<g id="n-p23"><circle class="np" cx="569" cy="548" r="4"/></g>
<g id="n-p24"><circle class="np" cx="620" cy="564" r="4"/></g>
<g id="n-p25"><circle class="np" cx="287" cy="580" r="4"/></g>
<g id="n-p26"><circle class="np" cx="404" cy="581" r="4"/></g>
<g id="n-p27"><circle class="np" cx="459" cy="571" r="4"/></g>
<g id="n-p28"><circle class="np" cx="348" cy="592" r="4"/></g>
<g id="n-p29"><circle class="np" cx="536" cy="591" r="4"/></g>
<g id="n-p30"><circle class="np" cx="590" cy="607" r="4"/></g>
<g id="n-p31"><circle class="np" cx="488" cy="618" r="4"/></g>
<g id="n-p32"><circle class="np" cx="311" cy="630" r="4"/></g>
<g id="n-p33"><circle class="np" cx="381" cy="633" r="4"/></g>
<g id="n-p34"><circle class="np" cx="436" cy="630" r="4"/></g>
<g id="n-p35"><circle class="np" cx="547" cy="644" r="4"/></g>
<g id="n-p36"><circle class="np" cx="343" cy="671" r="4"/></g>
<g id="n-p37"><circle class="np" cx="396" cy="686" r="4"/></g>
<g id="n-p38"><circle class="np" cx="448" cy="682" r="4"/></g>
<g id="n-p39"><circle class="np" cx="499" cy="669" r="4"/></g>
<!-- orange nodes -->
<g id="n-o0"><circle class="no" cx="252" cy="10" r="4"/></g>
<g id="n-o1"><circle class="no" cx="212" cy="50" r="4"/></g>
<g id="n-o2"><circle class="no" cx="157" cy="61" r="4"/></g>
<g id="n-o3"><circle class="no" cx="118" cy="104" r="4"/></g>
<g id="n-o4"><circle class="no" cx="196" cy="115" r="4"/></g>
<g id="n-o5"><circle class="no" cx="203" cy="183" r="4"/></g>
<g id="n-o16"><circle class="no" cx="76" cy="154" r="4"/></g>
<g id="n-o6"><circle class="no" cx="43" cy="204" r="4"/></g>
<g id="n-o7"><circle class="no" cx="109" cy="207" r="4"/></g>
<g id="n-o8"><circle class="no" cx="158" cy="241" r="4"/></g>
<g id="n-o9"><circle class="no" cx="214" cy="256" r="4"/></g>
<g id="n-o10"><circle class="no" cx="25" cy="258" r="4"/></g>
<g id="n-o11"><circle class="no" cx="89" cy="263" r="4"/></g>
<g id="n-o12"><circle class="no" cx="16" cy="315" r="4"/></g>
<g id="n-o13"><circle class="no" cx="79" cy="322" r="4"/></g>
<g id="n-o14"><circle class="no" cx="139" cy="306" r="4"/></g>
<g id="n-o15"><circle class="no" cx="197" cy="309" r="4"/></g>
<g id="n-decision-making"><circle cx="148" cy="162" r="37" fill="#fe6a3c"/><text x="148" y="168" font-size="32" text-anchor="middle">decision making</text></g>
<!-- blue nodes -->
<g id="n-b0"><circle class="nb" cx="19" cy="380" r="4"/></g>
<g id="n-b1"><circle class="nb" cx="82" cy="387" r="4"/></g>
<g id="n-b2"><circle class="nb" cx="144" cy="375" r="4"/></g>
<g id="n-b3"><circle class="nb" cx="17" cy="436" r="4"/></g>
<g id="n-b4"><circle class="nb" cx="79" cy="448" r="4"/></g>
<g id="n-b5"><circle class="nb" cx="139" cy="432" r="4"/></g>
<g id="n-b6"><circle class="nb" cx="36" cy="493" r="4"/></g>
<g id="n-b7"><circle class="nb" cx="114" cy="499" r="4"/></g>
<g id="n-b8"><circle class="nb" cx="65" cy="541" r="4"/></g>
<g id="n-b9"><circle class="nb" cx="142" cy="554" r="4"/></g>
<g id="n-b10"><circle class="nb" cx="95" cy="590" r="4"/></g>
<g id="n-b11"><circle class="nb" cx="142" cy="625" r="4"/></g>
<g id="n-bhub"><circle class="nb" cx="177" cy="481" r="5.5"/></g>
<g id="n-c0"><circle class="nb" cx="259" cy="343" r="4"/></g>
<g id="n-c1"><circle class="nb" cx="212" cy="378" r="4"/></g>
<g id="n-c2"><circle class="nb" cx="213" cy="434" r="4"/></g>
<g id="n-c3"><circle class="nb" cx="202" cy="534" r="4"/></g>
<g id="n-c4"><circle class="nb" cx="206" cy="597" r="4"/></g>
<g id="n-c5"><circle class="nb" cx="202" cy="654" r="4"/></g>
<g id="n-c6"><circle class="nb" cx="251" cy="682" r="4"/></g>
<g id="n-x"><circle class="nb" cx="519" cy="328" r="4"/></g>
<!-- teal nodes -->
<g id="n-t0"><circle class="nt" cx="679" cy="186" r="4"/></g>
<g id="n-t1"><circle class="nt" cx="711" cy="241" r="4"/></g>
<g id="n-t2"><circle class="nt" cx="653" cy="255" r="4"/></g>
<g id="n-t3"><circle class="nt" cx="705" cy="299" r="4"/></g>
<g id="n-t4"><circle class="nt" cx="630" cy="311" r="4"/></g>
<g id="n-t5"><circle class="nt" cx="729" cy="349" r="4"/></g>
<g id="n-t6"><circle class="nt" cx="666" cy="358" r="4"/></g>
<g id="n-t7"><circle class="nt" cx="708" cy="404" r="4"/></g>
<g id="n-t8"><circle class="nt" cx="709" cy="460" r="4"/></g>
<g id="n-stakeholder"><circle cx="598" cy="407" r="31" fill="#1f8c67"/><text x="598" y="413" font-size="25" text-anchor="middle">stakeholder</text></g>
</svg>
